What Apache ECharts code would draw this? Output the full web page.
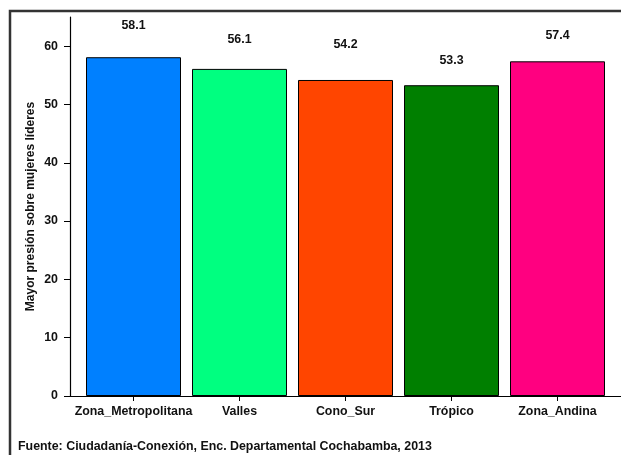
<!DOCTYPE html>
<html>
<head>
<meta charset="utf-8">
<script src="https://cdn.jsdelivr.net/npm/echarts@6/dist/echarts.min.js"></script>
<style>html,body{margin:0;padding:0;background:#fff}#c{width:621px;height:455px}</style>
</head>
<body>
<div id="c"></div>
<script>
const categories = ['Zona_Metropolitana', 'Valles', 'Cono_Sur', 'Trópico', 'Zona_Andina'];
const values = [58.1, 56.1, 54.2, 53.3, 57.4];
const barColors = ['#0080FF', '#00FF80', '#FF4500', '#007F00', '#FF0080'];
const yTicks = [0, 10, 20, 30, 40, 50, 60];
const yName = 'Mayor presión sobre mujeres líderes';
const caption = 'Fuente: Ciudadanía-Conexión, Enc. Departamental Cochabamba, 2013';
const labelGap = [26, 23, 29, 19, 20];

const FONT = '"Liberation Sans", Arial, sans-serif';
const FS = 12.4;
const chart = echarts.init(document.getElementById('c'), null, {renderer: 'canvas'});
chart.setOption({
  animation: false,
  backgroundColor: '#fff',
  grid: [
    {left: 80.5, width: 530, top: 17, bottom: 59},
    {left: 70, right: -10, top: 17, bottom: 59}
  ],
  xAxis: [
    {
      type: 'category', gridIndex: 0, data: categories, boundaryGap: true,
      axisLine: {show: false},
      axisTick: {show: true, alignWithLabel: true, length: 5, lineStyle: {color: '#000', width: 1}},
      axisLabel: {color: '#111', fontFamily: FONT, fontWeight: 'bold', fontSize: FS, margin: 10, interval: 0}
    },
    {
      type: 'value', gridIndex: 1, min: 0, max: 1,
      axisLine: {show: true, onZero: false, lineStyle: {color: '#000', width: 1.2}},
      axisTick: {show: false}, axisLabel: {show: false}, splitLine: {show: false}
    }
  ],
  yAxis: [
    {
      type: 'value', gridIndex: 0, min: 0, max: 65, offset: 10.5,
      axisLine: {show: true, lineStyle: {color: '#000', width: 1.2}},
      axisTick: {show: true, length: 6, customValues: yTicks, lineStyle: {color: '#000', width: 1}},
      axisLabel: {customValues: yTicks, color: '#111', fontFamily: FONT, fontWeight: 'bold', fontSize: FS, margin: 12},
      splitLine: {show: false},
      name: yName, nameLocation: 'middle', nameGap: 33, nameMoveOverlap: false,
      nameTextStyle: {color: '#111', fontFamily: FONT, fontWeight: 'bold', fontSize: 12}
    },
    {type: 'value', gridIndex: 1, show: false, min: 0, max: 1}
  ],
  series: [{
    type: 'bar', xAxisIndex: 0, yAxisIndex: 0, barWidth: 95,
    data: values.map((v, i) => ({
      value: v,
      itemStyle: {color: barColors[i]},
      label: {distance: labelGap[i]}
    })),
    itemStyle: {borderColor: '#000', borderWidth: 1},
    label: {show: true, position: 'top', color: '#111', fontFamily: FONT, fontWeight: 'bold', fontSize: FS,
            formatter: p => p.value.toFixed(1)}
  }],
  graphic: [
    {type: 'rect', shape: {x: 10, y: 11, width: 700, height: 500}, style: {fill: 'none', stroke: '#333', lineWidth: 2.5}, silent: true},
    {type: 'text', x: 18, y: 447, style: {text: caption, fill: '#111', font: 'bold ' + FS + 'px ' + FONT, textVerticalAlign: 'middle'}}
  ]
});
</script>
</body>
</html>
